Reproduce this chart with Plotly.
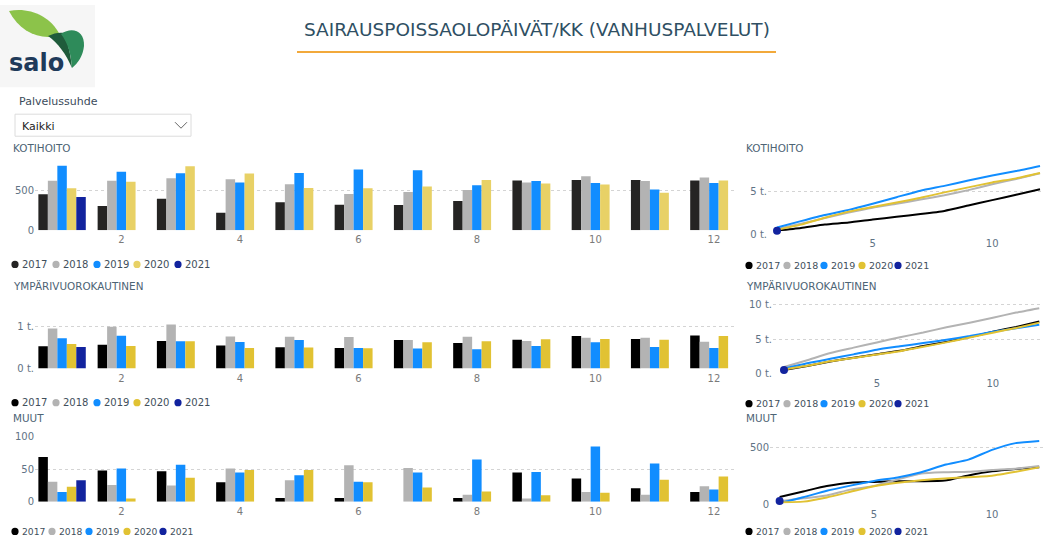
import plotly.graph_objects as go

W, H = 1043, 540

months = list(range(1, 13))
years = ["2017", "2018", "2019", "2020", "2021"]

# KOTIHOITO monthly sick-leave days
koti_2017 = [450, 304, 396, 221, 350, 321, 317, 367, 621, 630, 630, 621]
koti_2018 = [620, 620, 650, 638, 575, 454, 480, 505, 596, 676, 617, 659]
koti_2019 = [805, 730, 713, 596, 717, 759, 750, 563, 617, 592, 509, 592]
koti_2020 = [525, 608, 800, 709, 530, 525, 546, 630, 584, 571, 471, 621]
koti_2021 = [417, None, None, None, None, None, None, None, None, None, None, None]

# YMPÄRIVUOROKAUTINEN
ymp_2017 = [531, 570, 656, 547, 508, 492, 680, 609, 688, 773, 703, 789]
ymp_2018 = [953, 992, 1047, 766, 758, 750, 680, 758, 656, 734, 734, 641]
ymp_2019 = [719, 781, 648, 633, 680, 492, 477, 461, 539, 625, 516, 492]
ymp_2020 = [586, 539, 648, 492, 500, 484, 625, 648, 695, 703, 688, 773]
ymp_2021 = [516, None, None, None, None, None, None, None, None, None, None, None]

# MUUT
muut_2017 = [69, 48, 47, 30, 6, 6, None, 6, 45, 36, 21, 15]
muut_2018 = [31, 26, 25, 51, 33, 56, 52, 11, 5, 15, 11, 24]
muut_2019 = [15, 51, 57, 45, 41, 31, 45, 65, 46, 85, 59, 19]
muut_2020 = [23, 5, 37, 49, 49, 30, 22, 16, 10, 14, 34, 39]
muut_2021 = [33, None, None, None, None, None, None, None, None, None, None, None]

bar_ticks = [2, 4, 6, 8, 10, 12]
line_ticks = [5, 10]

FONT = "DejaVu Sans"
TITLE_C = "#2f4f63"
SUB_C = "#4d6475"
YT_C = "#5f7385"
XT_C = "#7a7a7a"
LEG_C = "#3f4f5c"

bar_cols_a = ["#252423", "#B3B3B3", "#118DFF", "#E8D166", "#12239E"]
bar_cols_b = ["#000000", "#B3B3B3", "#118DFF", "#E1C233", "#12239E"]
line_cols = ["#000000", "#B3B3B3", "#118DFF", "#E1C233", "#12239E"]


def cum(vals):
    out, s = [], 0
    for v in vals:
        s += 0 if v is None else v
        out.append(s)
    return out


fig = go.Figure()
groups = [
    ([koti_2017, koti_2018, koti_2019, koti_2020, koti_2021], bar_cols_a, "x", "y", "x4", "y4"),
    ([ymp_2017, ymp_2018, ymp_2019, ymp_2020, ymp_2021], bar_cols_b, "x2", "y2", "x5", "y5"),
    ([muut_2017, muut_2018, muut_2019, muut_2020, muut_2021], bar_cols_b, "x3", "y3", "x6", "y6"),
]
for series, cols, bx, by, lx, ly in groups:
    for yr, vals, c in zip(years, series, cols):
        fig.add_trace(go.Bar(x=months, y=vals, name=yr, marker=dict(color=c, line=dict(width=0)),
                             xaxis=bx, yaxis=by, showlegend=False, hoverinfo="skip"))
    for i, (yr, vals) in enumerate(zip(years, series)):
        if yr == "2021":
            fig.add_trace(go.Scatter(x=[1], y=[vals[0]], mode="markers",
                                     marker=dict(color=line_cols[i], size=8),
                                     xaxis=lx, yaxis=ly, showlegend=False, hoverinfo="skip",
                                     cliponaxis=False))
        else:
            fig.add_trace(go.Scatter(x=months, y=cum(vals), mode="lines",
                                     line=dict(color=line_cols[i], width=2, shape="spline", smoothing=0.5),
                                     xaxis=lx, yaxis=ly, showlegend=False, hoverinfo="skip"))


# page is photographed with a small vertical inset; map reference pixel rows to figure rows
def fy(y):
    return (y - 6) / 0.978


def px_x(x):
    return x / W


def px_y(y):
    return 1 - fy(y) / H


def clamp(v):
    return max(0.0, min(1.0, v))


def dx(a, b):
    return [clamp(px_x(a)), clamp(px_x(b))]


def dy(top, bottom):
    return [clamp(px_y(bottom)), clamp(px_y(top))]


def yax(top, bottom, rng, tv, tt):
    return dict(domain=dy(top, bottom), range=rng, tickvals=tv, ticktext=tt,
                showgrid=True, gridcolor="#d4d4d4", griddash="dot", gridwidth=1,
                zeroline=False, showline=False, ticks="",
                tickfont=dict(family=FONT, size=10, color=YT_C), fixedrange=True)


def xax(a, b, rng, tv, anchor, col):
    return dict(domain=dx(a, b), range=rng, tickvals=tv, anchor=anchor,
                showgrid=False, zeroline=False, showline=False, ticks="", ticklabelstandoff=2,
                tickfont=dict(family=FONT, size=10, color=col), fixedrange=True)


bar_rng = [0.543, 12.39]
layout = dict(
    width=W, height=H, autosize=False, margin=dict(l=0, r=0, t=0, b=0, pad=0),
    paper_bgcolor="white", plot_bgcolor="white",
    barmode="group", bargap=0.2, bargroupgap=0, font=dict(family=FONT),
    xaxis=xax(35, 737, bar_rng, bar_ticks, "y", XT_C),
    yaxis=yax(159, 231, [0, 900], [0, 500], ["0", "500"]),
    xaxis2=xax(35, 737, bar_rng, bar_ticks, "y2", XT_C),
    yaxis2=yax(306, 369, [0, 1500], [0, 1000], ["0 t.", "1 t."]),
    xaxis3=xax(35, 737, bar_rng, bar_ticks, "y3", XT_C),
    yaxis3=yax(437, 502, [0, 100], [0, 50, 100], ["0", "50", "100"]),
    xaxis4=xax(768, 1043, [0.623, 12.125], line_ticks, "y4", YT_C),
    yaxis4=yax(160, 235, [0, 8720], [0, 5000], ["0 t.", "5 t."]),
    xaxis5=xax(773, 1043, [0.526, 12.16], line_ticks, "y5", YT_C),
    yaxis5=yax(300, 374, [0, 10725], [0, 5000, 10000], ["0 t.", "5 t.", "10 t."]),
    xaxis6=xax(770, 1043, [0.593, 12.16], line_ticks, "y6", YT_C),
    yaxis6=yax(432, 505, [0, 640], [0, 500], ["0", "500"]),
)
for k in ["yaxis", "yaxis2", "yaxis3", "yaxis4", "yaxis5", "yaxis6"]:
    layout[k]["anchor"] = "x" + k.replace("yaxis", "")
fig.update_layout(**layout)

ann, shapes = [], []


def text(px, py, s, size, color, anchor="left"):
    ann.append(dict(x=px_x(px), y=px_y(py), xref="paper", yref="paper", text=s, showarrow=False,
                    xanchor=anchor, yanchor="middle", font=dict(family=FONT, size=size, color=color)))


def rect(x0, y0, x1, y1, fill=None, line=None, lw=1, layer="below"):
    shapes.append(dict(type="rect", xref="paper", yref="paper", x0=px_x(x0), x1=px_x(x1),
                       y0=clamp(px_y(y1)), y1=clamp(px_y(y0)), fillcolor=fill or "rgba(0,0,0,0)",
                       line=dict(color=line or "rgba(0,0,0,0)", width=lw if line else 0), layer=layer))


def path(pts_cmd, fill=None, line=None, lw=1):
    parts = []
    for cmd, coords in pts_cmd:
        if cmd == "Z":
            parts.append("Z")
            continue
        cs = [f"{px_x(coords[i]):.5f},{px_y(coords[i + 1]):.5f}" for i in range(0, len(coords), 2)]
        parts.append(cmd + " " + " ".join(cs))
    shapes.append(dict(type="path", xref="paper", yref="paper", path=" ".join(parts),
                       fillcolor=fill or "rgba(0,0,0,0)",
                       line=dict(color=line or "rgba(0,0,0,0)", width=lw if line else 0)))


def circle(cx, cy, r, color):
    shapes.append(dict(type="circle", xref="paper", yref="paper", x0=px_x(cx - r), x1=px_x(cx + r),
                       y0=px_y(cy + r), y1=px_y(cy - r), fillcolor=color, line=dict(width=0)))


# logo
rect(0, 6, 95, 88, fill="#f6f6f6")
path([("M", [9, 12]), ("C", [28, 8, 50, 16, 60, 36]), ("C", [42, 42, 20, 34, 9, 12]), ("Z", [])], fill="#8cc34a")
path([("M", [48, 37]), ("C", [54, 34, 60, 33, 64, 34]), ("C", [68, 44, 71, 57, 72, 69]),
      ("C", [66, 55, 58, 44, 48, 37]), ("Z", [])], fill="#1f5b3b")
path([("M", [61, 35]), ("C", [72, 27, 85, 32, 84, 47]), ("C", [83, 57, 78, 64, 72, 69]),
      ("C", [71, 55, 68, 44, 61, 35]), ("Z", [])], fill="#2e8b5a")
text(7, 64, "<b>salo</b>", 24, "#1f3a5a")

# main title and underline
text(537, 30, "SAIRAUSPOISSAOLOPÄIVÄT/KK (VANHUSPALVELUT)", 18.5, TITLE_C, anchor="center")
shapes.append(dict(type="line", xref="paper", yref="paper", x0=px_x(297), x1=px_x(776),
                   y0=px_y(53), y1=px_y(53), line=dict(color="#F2A93B", width=2)))

# slicer
text(17, 102, "Palvelussuhde", 11, "#3b4b5b")
rect(15, 115, 191, 137, fill="white", line="#dcdcdc", lw=1)
text(20, 127, "Kaikki", 11, "#252423")
path([("M", [175, 123]), ("L", [181, 129]), ("L", [187, 123])], line="#666666", lw=1)

# section titles
for py, s in [(149, "KOTIHOITO"), (287, "YMPÄRIVUOROKAUTINEN"), (418, "MUUT")]:
    text(11, py, s, 10.4, SUB_C)
    text(744, py, s, 10.4, SUB_C)

# legends
legend_rows = [
    ([15, 56, 97, 137, 178], 265, bar_cols_a, 10),
    ([15, 56, 97, 137, 178], 403, bar_cols_b, 10),
    ([15, 52, 89, 127, 163], 531.5, bar_cols_b, 9.2),
    ([749, 787, 824, 862, 898], 266, line_cols, 9.5),
    ([749, 787, 824, 862, 898], 404, line_cols, 9.5),
    ([749, 787, 824, 862, 898], 531.5, line_cols, 9.2),
]
for xs, py, cols, fs in legend_rows:
    for cx, yr, c in zip(xs, years, cols):
        circle(cx, py, 3.6, c)
        text(cx + 4.5, py, yr, fs, LEG_C)

fig.update_layout(annotations=ann, shapes=shapes)
fig.write_html("out.html", config={"displayModeBar": False},
               post_script="document.documentElement.style.margin='0';document.body.style.margin='0';"
                           "document.documentElement.style.overflow='hidden';document.body.style.overflow='hidden';")
